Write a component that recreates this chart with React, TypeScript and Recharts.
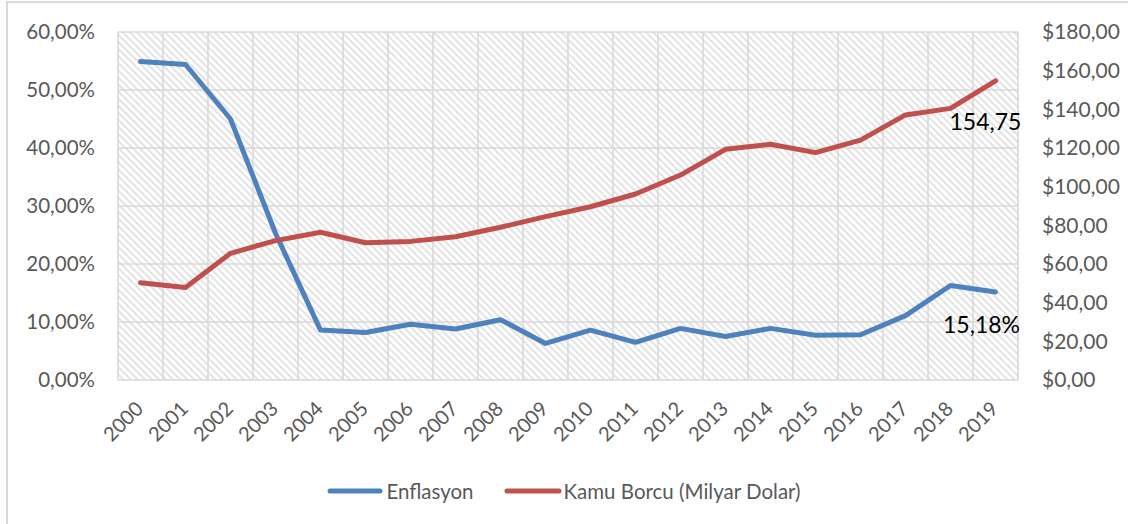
import React from 'react';
import { LineChart, Line, XAxis, YAxis, CartesianGrid, Legend, LabelList } from 'recharts';

const years = ['2000','2001','2002','2003','2004','2005','2006','2007','2008','2009','2010','2011','2012','2013','2014','2015','2016','2017','2018','2019'];
const enflasyon = [54.9, 54.4, 45.0, 25.3, 8.6, 8.2, 9.6, 8.8, 10.4, 6.3, 8.6, 6.5, 8.9, 7.5, 8.9, 7.7, 7.8, 11.1, 16.3, 15.18];
const kamuBorcu = [50.3, 47.9, 65.5, 72.1, 76.4, 71.0, 71.7, 74.1, 79.0, 84.5, 89.6, 96.2, 106.0, 119.3, 121.9, 117.6, 124.1, 137.1, 140.5, 154.75];
const leftTicks = [0, 10, 20, 30, 40, 50, 60];
const rightTicks = [0, 20, 40, 60, 80, 100, 120, 140, 160, 180];
const seriesNames = ['Enflasyon', 'Kamu Borcu (Milyar Dolar)'];

const BLUE = '#4f81bd';
const RED = '#c0504d';
const GRID = '#d9d9d9';
const TEXT = '#595959';
const FONT = 'Lato, "Open Sans", sans-serif';

const data = years.map((y, i) => ({ idx: i, year: y, enf: enflasyon[i], borc: kamuBorcu[i] }));
const centerTicks = years.map((_, i) => i);
const boundaryTicks = [...years.map((_, i) => i - 0.5), years.length - 0.5];
const domainX: [number, number] = [-0.5, years.length - 0.5];
const last = years.length - 1;

const fmt = (v: number) => v.toFixed(2).replace('.', ',');

const XTick = (props: any) => {
  const { x, y, payload } = props;
  return (
    <g transform={`translate(${x + 4},${y + 30})`}>
      <text x={0} y={0} textAnchor="end" transform="rotate(-45)" fill={TEXT} fontSize={20} fontFamily={FONT}>
        {years[payload.value]}
      </text>
    </g>
  );
};

const borcLabel = (p: any) => {
  if (p.index !== last) return null;
  return (
    <text x={p.x - 10} y={p.y + 49} textAnchor="middle" fill="#000" fontSize={23} fontFamily={FONT}>
      {fmt(p.value)}
    </text>
  );
};

const enfLabel = (p: any) => {
  if (p.index !== last) return null;
  return (
    <text x={p.x - 14} y={p.y + 41} textAnchor="middle" fill="#000" fontSize={23} fontFamily={FONT}>
      {fmt(p.value) + '%'}
    </text>
  );
};

const LegendContent = () => (
  <div style={{ height: 40, display: 'flex', justifyContent: 'center', alignItems: 'center', fontFamily: FONT, fontSize: 20.5, color: TEXT }}>
    <span style={{ display: 'inline-flex', alignItems: 'center', marginRight: 30 }}>
      <svg width={56} height={10} style={{ marginRight: 3 }}>
        <line x1={3} y1={5} x2={53} y2={5} stroke={BLUE} strokeWidth={5} strokeLinecap="round" />
      </svg>
      {seriesNames[0]}
    </span>
    <span style={{ display: 'inline-flex', alignItems: 'center' }}>
      <svg width={58} height={10} style={{ marginRight: 2 }}>
        <line x1={3} y1={5} x2={55} y2={5} stroke={RED} strokeWidth={5} strokeLinecap="round" />
      </svg>
      {seriesNames[1]}
    </span>
  </div>
);

const verticalGen = (props: any) => {
  const s = props && props.xAxis && props.xAxis.scale;
  if (typeof s === 'function') return boundaryTicks.map((t) => s(t));
  const off = props.offset;
  return boundaryTicks.map((t) => off.left + ((t - domainX[0]) / (domainX[1] - domainX[0])) * off.width);
};

export default function App() {
  return (
    <div>
      <style>{`body{overflow:hidden}`}</style>
      <div style={{ position: 'absolute', left: 6, top: 1, width: 1120, height: 521, borderLeft: `2px solid ${GRID}`, borderTop: `2px solid ${GRID}`, background: '#fff' }} />
      <svg width={0} height={0} style={{ position: 'absolute' }}>
        <defs>
          <pattern id="hatch" width={5} height={5} patternUnits="userSpaceOnUse" patternTransform="rotate(45)">
            <rect x={0} y={0} width={5} height={5} fill="#ffffff" />
            <rect x={0} y={0} width={5} height={2} fill="#e3e3e3" />
          </pattern>
        </defs>
      </svg>
      <div style={{ position: 'absolute', left: 0, top: 0 }}>
        <LineChart width={1128} height={524} data={data} margin={{ top: 32, right: 0, bottom: 44, left: 0 }}>
          <CartesianGrid xAxisId="main" yAxisId="left" stroke={GRID} strokeWidth={1.6} fill="url(#hatch)" fillOpacity={1}
            verticalCoordinatesGenerator={verticalGen} />
          <XAxis xAxisId="grid" type="number" dataKey="idx" domain={domainX} ticks={boundaryTicks}
            tick={false} tickSize={6} height={0} axisLine={{ stroke: GRID, strokeWidth: 2 }} tickLine={{ stroke: GRID, strokeWidth: 1.6 }} allowDecimals />
          <XAxis xAxisId="main" type="number" dataKey="idx" domain={domainX} ticks={centerTicks}
            tick={<XTick />} tickSize={0} tickMargin={0} height={60} axisLine={false} tickLine={false} interval={0} />
          <YAxis yAxisId="left" orientation="left" domain={[0, 60]} ticks={leftTicks} width={118}
            tickFormatter={(v: number) => fmt(v) + '%'} axisLine={false} tickLine={false} tickSize={0} tickMargin={23}
            tick={{ fill: TEXT, fontSize: 20.5, fontFamily: FONT }} />
          <YAxis yAxisId="right" orientation="right" domain={[0, 180]} ticks={rightTicks} width={110}
            tickFormatter={(v: number) => '$' + fmt(v)} axisLine={false} tickLine={false} tickSize={0} tickMargin={24}
            tick={{ fill: TEXT, fontSize: 21, fontFamily: FONT, textAnchor: 'start' }} />
          <Legend verticalAlign="bottom" content={<LegendContent />} wrapperStyle={{ top: 471, bottom: 'auto', left: 0, width: 1128 }} />
          <Line xAxisId="main" yAxisId="left" dataKey="enf" name={seriesNames[0]} stroke={BLUE} strokeWidth={5} dot={false}
            strokeLinecap="round" strokeLinejoin="round" isAnimationActive={false}>
            <LabelList dataKey="enf" content={enfLabel} />
          </Line>
          <Line xAxisId="main" yAxisId="right" dataKey="borc" name={seriesNames[1]} stroke={RED} strokeWidth={5} dot={false}
            strokeLinecap="round" strokeLinejoin="round" isAnimationActive={false}>
            <LabelList dataKey="borc" content={borcLabel} />
          </Line>
        </LineChart>
      </div>
    </div>
  );
}
